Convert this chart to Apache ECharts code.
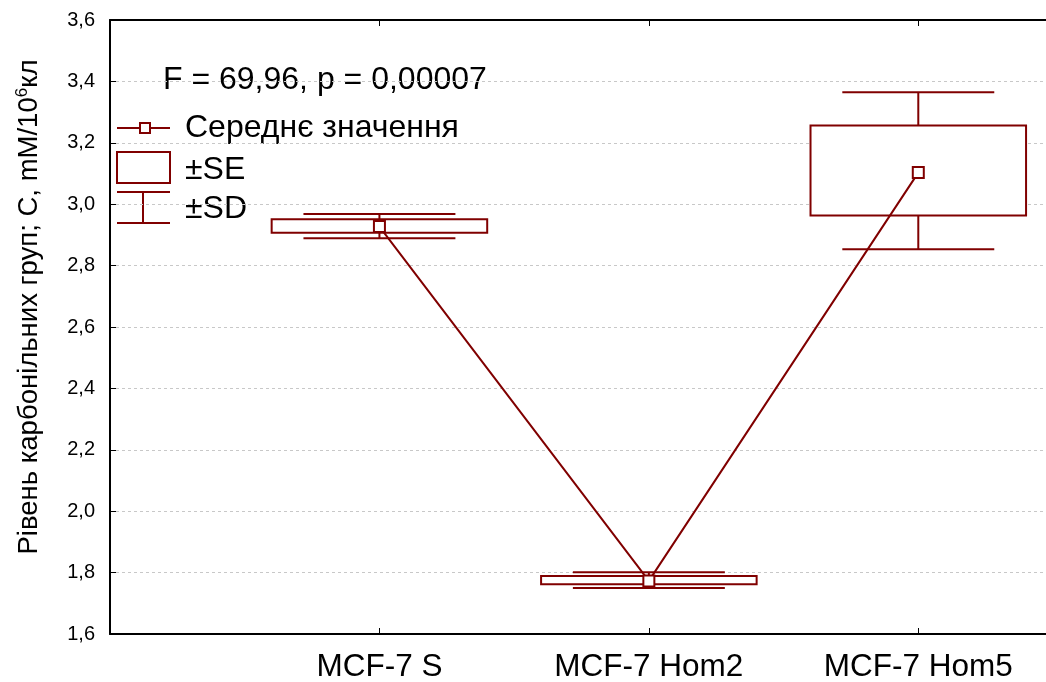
<!DOCTYPE html>
<html>
<head>
<meta charset="utf-8">
<script src="https://cdn.jsdelivr.net/npm/echarts@6/dist/echarts.min.js"></script>
<style>
html,body{margin:0;padding:0;background:#fff;}
#chart{width:1046px;height:682px;}
</style>
</head>
<body>
<div id="chart"></div>
<script>
// ---- data ----
const categories = ['MCF-7 S', 'MCF-7 Hom2', 'MCF-7 Hom5'];
const means   = [2.927, 1.773, 3.103];
const seLow   = [2.907, 1.762, 2.963];
const seHigh  = [2.951, 1.789, 3.256];
const sdLow   = [2.889, 1.750, 2.853];
const sdHigh  = [2.968, 1.801, 3.365];
const yTicks  = ['1,6','1,8','2,0','2,2','2,4','2,6','2,8','3,0','3,2','3,4','3,6'];
const statText = 'F = 69,96, p = 0,00007';
const legendLabels = ['Середнє значення', '±SE', '±SD'];
const yName = 'Рівень карбонільних груп; C, mM/10';

const COLOR = '#800000';
const FONT = 'Liberation Sans, Arial, sans-serif';

const chart = echarts.init(document.getElementById('chart'));

const boxData = categories.map((c, i) => [i + 1, seLow[i], seHigh[i], sdLow[i], sdHigh[i]]);
const meanData = categories.map((c, i) => [i + 1, means[i]]);

function renderBox(params, api) {
  const x = api.value(0);
  const pSeLo = api.coord([x, api.value(1)]);
  const pSeHi = api.coord([x, api.value(2)]);
  const pSdLo = api.coord([x, api.value(3)]);
  const pSdHi = api.coord([x, api.value(4)]);
  const boxHalf = api.size([0.4, 0])[0];
  const capHalf = api.size([0.282, 0])[0];
  const cx = pSeLo[0];
  const st = { stroke: COLOR, lineWidth: 2, fill: null };
  return {
    type: 'group',
    children: [
      { type: 'line', shape: { x1: cx, y1: pSeHi[1], x2: cx, y2: pSdHi[1] }, style: st },
      { type: 'line', shape: { x1: cx, y1: pSeLo[1], x2: cx, y2: pSdLo[1] }, style: st },
      { type: 'line', shape: { x1: cx - capHalf, y1: pSdHi[1], x2: cx + capHalf, y2: pSdHi[1] }, style: st },
      { type: 'line', shape: { x1: cx - capHalf, y1: pSdLo[1], x2: cx + capHalf, y2: pSdLo[1] }, style: st },
      { type: 'rect', shape: { x: cx - boxHalf, y: pSeHi[1], width: boxHalf * 2, height: pSeLo[1] - pSeHi[1] },
        style: { stroke: COLOR, lineWidth: 2, fill: '#fff' } }
    ]
  };
}

const TXT = '32px ' + FONT;
const legendGraphics = [
  { type: 'text', x: 163, y: 80, style: { text: statText, font: TXT, fill: '#000', verticalAlign: 'middle' } },
  // mean legend
  { type: 'line', shape: { x1: 117, y1: 128, x2: 170, y2: 128 }, style: { stroke: COLOR, lineWidth: 2 } },
  { type: 'rect', shape: { x: 140, y: 123, width: 10, height: 10 }, style: { stroke: COLOR, lineWidth: 2, fill: '#fff' } },
  { type: 'text', x: 185, y: 128, style: { text: legendLabels[0], font: TXT, fill: '#000', verticalAlign: 'middle' } },
  // SE legend
  { type: 'rect', shape: { x: 117, y: 152, width: 53, height: 31 }, style: { stroke: COLOR, lineWidth: 2, fill: '#fff' } },
  { type: 'text', x: 185, y: 170, style: { text: legendLabels[1], font: TXT, fill: '#000', verticalAlign: 'middle' } },
  // SD legend
  { type: 'line', shape: { x1: 117, y1: 192, x2: 170, y2: 192 }, style: { stroke: COLOR, lineWidth: 2 } },
  { type: 'line', shape: { x1: 117, y1: 223, x2: 170, y2: 223 }, style: { stroke: COLOR, lineWidth: 2 } },
  { type: 'line', shape: { x1: 143, y1: 192, x2: 143, y2: 223 }, style: { stroke: COLOR, lineWidth: 2 } },
  { type: 'text', x: 185, y: 209, style: { text: legendLabels[2], font: TXT, fill: '#000', verticalAlign: 'middle' } },
  // y axis name (rotated)
  { type: 'text', x: 29, y: 307, rotation: Math.PI / 2,
    style: { text: '{a|' + yName + '}{s|6}{a|кл}', align: 'center', verticalAlign: 'middle',
      rich: { a: { font: '27.5px ' + FONT, fill: '#000' }, s: { font: '17px ' + FONT, fill: '#000', padding: [0,0,14,0] } } } }
];

const option = {
  backgroundColor: '#fff',
  animation: false,
  grid: { left: 110, top: 20, width: 936, height: 614, containLabel: false, outerBoundsMode: 'none' },
  xAxis: [
    {
      type: 'value', min: 0, max: 3.474, interval: 1,
      axisLine: { show: true, onZero: false, lineStyle: { color: '#000', width: 2 } },
      axisTick: { show: true, inside: true, length: 6, lineStyle: { color: '#000', width: 1 } },
      splitLine: { show: false },
      axisLabel: {
        margin: 17, color: '#000', fontSize: 31.5, fontFamily: FONT, showMaxLabel: false,
        formatter: v => (Number.isInteger(v) && v >= 1 && v <= categories.length) ? categories[v - 1] : ''
      }
    },
    {
      type: 'value', position: 'top', min: 0, max: 3.474, interval: 1,
      axisLine: { show: true, onZero: false, lineStyle: { color: '#000', width: 2 } },
      axisTick: { show: true, inside: true, length: 6, lineStyle: { color: '#000', width: 1 } },
      splitLine: { show: false },
      axisLabel: { show: false }
    }
  ],
  yAxis: {
    type: 'value', min: 1.6, max: 3.6, interval: 0.2,
    axisLine: { show: true, onZero: false, lineStyle: { color: '#000', width: 2 } },
    axisTick: { show: true, inside: true, length: 6, lineStyle: { color: '#000', width: 1 } },
    splitLine: { show: true, lineStyle: { color: '#c8c8c8', type: [3, 3], width: 1 } },
    axisLabel: {
      margin: 15, color: '#000', fontSize: 20, fontFamily: FONT,
      formatter: v => yTicks[Math.round((v - 1.6) / 0.2)]
    }
  },
  series: [
    { type: 'custom', renderItem: renderBox, data: boxData, z: 2, silent: true },
    {
      type: 'line', data: meanData, z: 3, silent: true,
      lineStyle: { color: COLOR, width: 2 },
      symbol: 'rect', symbolSize: 11, showAllSymbol: true,
      itemStyle: { color: '#fff', borderColor: COLOR, borderWidth: 2 }
    }
  ],
  graphic: legendGraphics
};
chart.setOption(option);
</script>
</body>
</html>
